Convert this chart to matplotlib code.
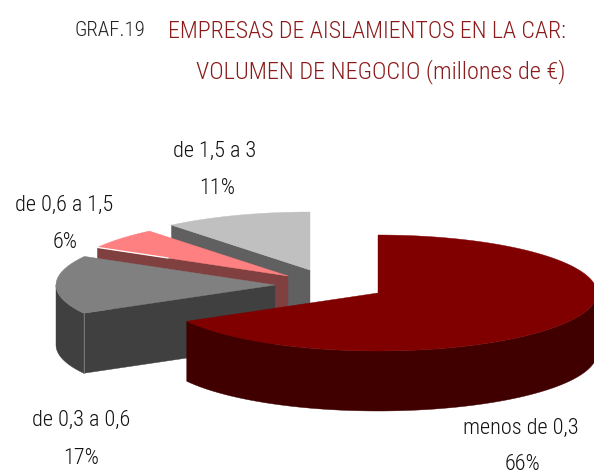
import numpy as np
import matplotlib
matplotlib.use("Agg")
import matplotlib.pyplot as plt
from matplotlib.patches import Polygon
from matplotlib import font_manager as fm

labels = ["menos de 0,3", "de 0,3 a 0,6", "de 0,6 a 1,5", "de 1,5 a 3"]
percent_labels = ["66%", "17%", "6%", "11%"]
slice_values = [66.9, 16.3, 5.9, 10.9]
top_colors = ["#800000", "#808080", "#FF8080", "#C0C0C0"]
side_colors = ["#400000", "#404040", "#804040", "#606060"]
apexes = [(378, 293), (275, 285), (288, 276), (310, 270)]
label_pos = [(521, 428, 522, 465), (81, 420, 81, 458), (64, 205, 65, 243), (215, 151, 217, 189)]

RX, RY, DEPTH = 219, 58, 60

def weight_num(w):
    table = {"ultralight": 200, "light": 300, "normal": 400, "regular": 400, "book": 400,
             "medium": 500, "semibold": 600, "demibold": 600, "bold": 700, "heavy": 800, "black": 900}
    return w if isinstance(w, (int, float)) else table.get(str(w).lower(), 400)

candidates = [f for f in fm.fontManager.ttflist
              if f.name in ("Open Sans Condensed", "Roboto Condensed") and f.style == "normal"]
candidates.sort(key=lambda f: (weight_num(f.weight), f.name))
fp = fm.FontProperties(fname=candidates[0].fname) if candidates else fm.FontProperties(family="DejaVu Sans", stretch="condensed")

fig = plt.figure(figsize=(5.94, 4.76), dpi=100, facecolor="white")
ax = fig.add_axes([0, 0, 1, 1])
ax.set_xlim(0, 594)
ax.set_ylim(476, 0)
ax.axis("off")

def rim(apex, a, b):
    t = np.radians(np.linspace(a, b, 120))
    return np.column_stack([apex[0] + RX * np.sin(t), apex[1] - RY * np.cos(t)])

edges = np.concatenate([[0], np.cumsum(slice_values)]) * 360 / sum(slice_values)
for i in [3, 2, 1, 0]:
    a, b = edges[i], edges[i + 1]
    apex = np.array(apexes[i], float)
    down = np.array([0, DEPTH])
    if 180 < a < 360:
        p = rim(apex, a, a)[0]
        ax.add_patch(Polygon([apex, p, p + down, apex + down], fc=side_colors[i], ec=side_colors[i], lw=0.3))
    lo, hi = max(a, 90), min(b, 270)
    if lo < hi:
        r = rim(apex, lo, hi)
        ax.add_patch(Polygon(np.vstack([r, (r + down)[::-1]]), fc=side_colors[i], ec=side_colors[i], lw=0.3))
    ax.add_patch(Polygon(np.vstack([[apex], rim(apex, a, b)]), fc=top_colors[i], ec=top_colors[i], lw=0.3))
    if i == 1:
        p = rim(apex, a, a)[0]
        ax.plot([p[0], p[0]], [p[1], p[1] + DEPTH], color=top_colors[i], lw=0.6)
    if i == 2:
        p = rim(apex, a, a)[0]
        q = p + 0.37 * (apex - p)
        ax.plot([p[0], q[0]], [p[1], q[1]], color="white", lw=0.9)

def put(x, y, s, size, color, ha="center"):
    t = ax.text(x, y, s, ha=ha, va="center", fontproperties=fp, color=color)
    t.set_fontsize(size)

for name, pct, (x1, y1, x2, y2) in zip(labels, percent_labels, label_pos):
    put(x1, y1, name, 16, "#111111")
    put(x2, y2, pct, 16, "#111111")

put(74, 31, "GRAF.19", 15, "#222222", ha="left")
put(566, 31, "EMPRESAS DE AISLAMIENTOS EN LA CAR:", 17.3, "#8B1A1A", ha="right")
put(566, 72, "VOLUMEN DE NEGOCIO (millones de €)", 17.6, "#8B1A1A", ha="right")

fig.savefig("out.png", dpi=100, facecolor="white")
